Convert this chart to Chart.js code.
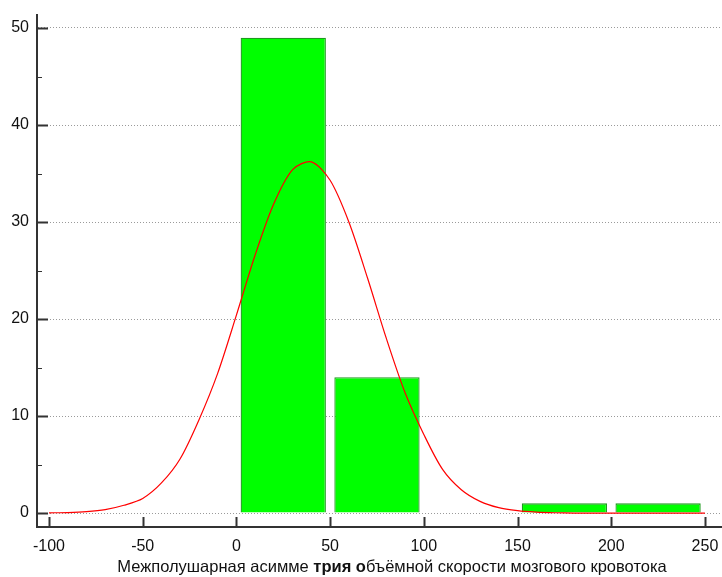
<!DOCTYPE html>
<html lang="ru">
<head>
    <meta charset="UTF-8">
    <title>Межполушарная асимметрия</title>
    <script src="https://cdn.jsdelivr.net/npm/chart.js@4.4.0/dist/chart.umd.min.js"></script>
    <style>
        body {
            margin: 0;
            padding: 0;
            background: #ffffff;
            font-family: "Liberation Sans", Arial, sans-serif;
        }
        .wrap {
            position: relative;
            width: 722px;
            height: 577px;
        }
        canvas {
            position: absolute;
            left: 0;
            top: 0;
        }
        /* подпись оси X, часть слов жирным как в оригинале */
        .xtitle {
            position: absolute;
            left: 62px;
            width: 660px;
            top: 557px;
            text-align: center;
            font-size: 16.5px;
            color: #111;
            white-space: nowrap;
        }
    </style>
</head>
<body>
    <div class="wrap">
        <canvas id="chart" width="722" height="577"></canvas>
        <div class="xtitle">Межполушарная асимме <b>трия о</b>бъёмной скорости мозгового кровотока</div>
    </div>

    <script>
        // Гистограмма: центры интервалов и частоты
        const binCenters = [25, 75, 175, 225];
        const binCounts = [49, 14, 1, 1];

        // Кривая нормального распределения
        const curveX = [-100, -90, -80, -70, -60, -50, -40, -30, -20, -10, 0, 10, 20, 30, 40, 50, 60, 70, 80, 90, 100, 110, 120, 130, 140, 150, 160, 170, 180, 190, 200, 210, 220, 230, 240, 250];
        const curveY = [0.02, 0.05, 0.14, 0.35, 0.8, 1.5, 3.1, 5.6, 9.6, 14.4, 20.4, 26.6, 31.9, 35.4, 36.2, 34.3, 30.0, 24.2, 18.0, 12.4, 8.1, 4.5, 2.4, 1.2, 0.55, 0.25, 0.1, 0.03, 0, 0, 0, 0, 0, 0, 0, 0];

        const xTicks = [-100, -50, 0, 50, 100, 150, 200, 250];
        const yTicks = [0, 10, 20, 30, 40, 50];
        const yMinorTicks = [5, 15, 25, 35, 45];

        const axisColor = '#333333';

        // Засечки внутрь области графика
        const innerTicks = {
            id: 'innerTicks',
            afterDraw(chart) {
                const ctx = chart.ctx;
                const x = chart.scales.x;
                const y = chart.scales.y;
                const area = chart.chartArea;
                ctx.save();
                ctx.strokeStyle = axisColor;
                ctx.lineWidth = 2;
                ctx.beginPath();
                yTicks.forEach(v => {
                    const py = Math.round(y.getPixelForValue(v)) + 0.5;
                    ctx.moveTo(area.left, py);
                    ctx.lineTo(area.left + 11, py);
                });
                xTicks.forEach(v => {
                    const px = Math.round(x.getPixelForValue(v)) + 0.5;
                    ctx.moveTo(px, area.bottom);
                    ctx.lineTo(px, area.bottom - 10);
                });
                ctx.stroke();
                ctx.lineWidth = 1;
                ctx.beginPath();
                yMinorTicks.forEach(v => {
                    const py = Math.round(y.getPixelForValue(v)) + 0.5;
                    ctx.moveTo(area.left, py);
                    ctx.lineTo(area.left + 5, py);
                });
                ctx.stroke();
                ctx.restore();
            }
        };

        const ctx = document.getElementById('chart').getContext('2d');
        new Chart(ctx, {
            data: {
                datasets: [
                    {
                        type: 'line',
                        label: 'Нормальное распределение',
                        data: curveX.map((v, i) => ({ x: v, y: curveY[i] })),
                        borderColor: '#ff0000',
                        borderWidth: 1.2,
                        pointRadius: 0,
                        tension: 0.3,
                        fill: false,
                        order: 1
                    },
                    {
                        type: 'bar',
                        label: 'Частота',
                        data: binCenters.map((v, i) => ({ x: v, y: binCounts[i] })),
                        backgroundColor: '#00ff00',
                        borderColor: '#1f9a1f',
                        borderWidth: 1.3,
                        categoryPercentage: 1,
                        barPercentage: 0.91,
                        order: 2
                    }
                ]
            },
            options: {
                responsive: false,
                animation: false,
                layout: {
                    padding: { top: 15, right: 0, left: 0, bottom: 0 }
                },
                plugins: {
                    legend: { display: false },
                    tooltip: { enabled: false }
                },
                scales: {
                    x: {
                        type: 'linear',
                        offset: false,
                        min: -106.4,
                        max: 259.1,
                        afterBuildTicks: s => { s.ticks = xTicks.map(v => ({ value: v })); },
                        afterFit: s => { s.height = 50; s.paddingLeft = 0; s.paddingRight = 0; },
                        grid: { display: false, drawTicks: false, offset: false },
                        border: { display: true, color: axisColor, width: 2 },
                        ticks: {
                            padding: 10,
                            color: '#111',
                            maxRotation: 0,
                            font: { family: '"Liberation Sans", Arial, sans-serif', size: 16 }
                        }
                    },
                    y: {
                        min: -1.44,
                        max: 51.34,
                        afterBuildTicks: s => { s.ticks = yTicks.map(v => ({ value: v })); },
                        afterFit: s => { s.width = 37; s.paddingTop = 0; s.paddingBottom = 0; },
                        grid: {
                            drawTicks: false,
                            color: '#9a9a9a',
                            lineWidth: 1
                        },
                        // в v4 dash относится к линиям сетки, сама ось остаётся сплошной
                        border: { display: true, color: axisColor, width: 2, dash: [1, 2] },
                        ticks: {
                            padding: 8,
                            color: '#111',
                            font: { family: '"Liberation Sans", Arial, sans-serif', size: 16 }
                        }
                    }
                }
            },
            plugins: [innerTicks]
        });
    </script>
</body>
</html>
